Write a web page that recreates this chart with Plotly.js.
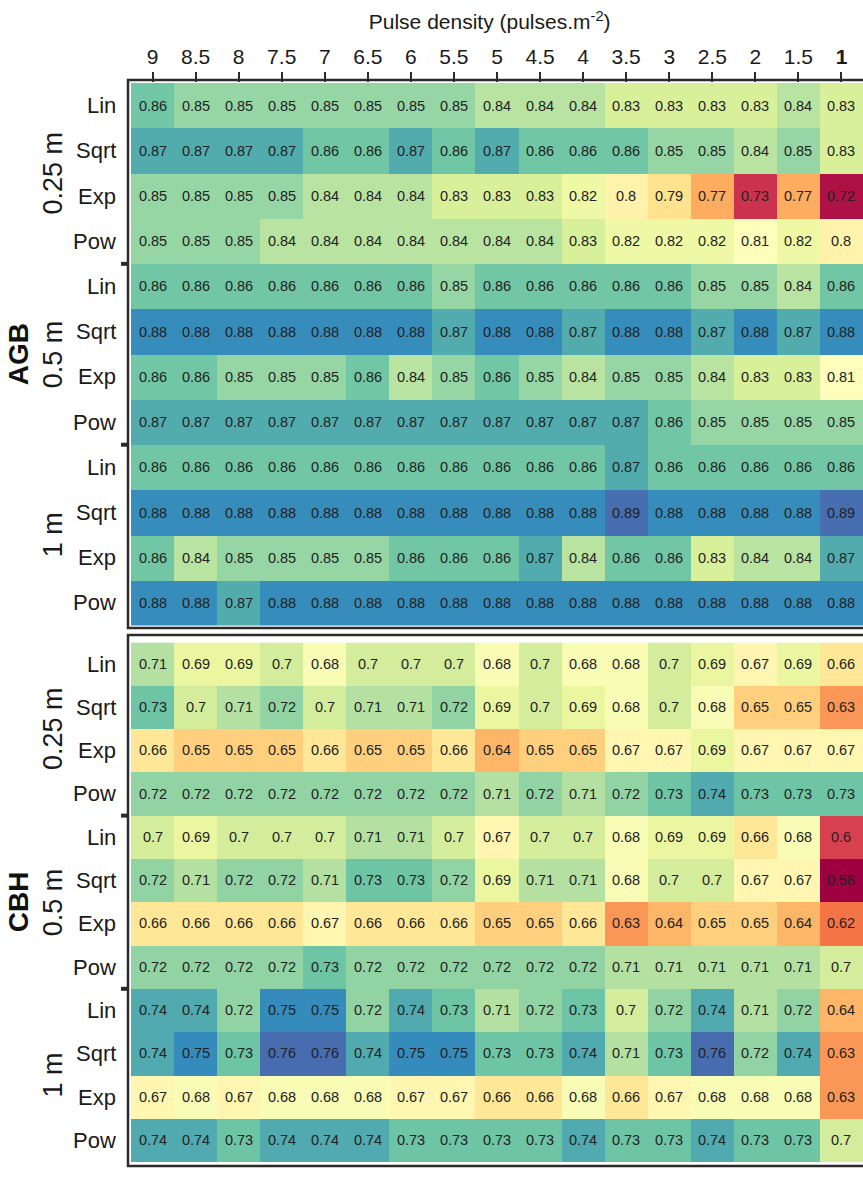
<!DOCTYPE html>
<html>
<head>
<meta charset="utf-8">
<script src="https://cdn.plot.ly/plotly-3.0.1.min.js"></script>
<style>html,body{margin:0;padding:0;background:#fff;}#chart{width:863px;height:1183px;}</style>
</head>
<body>
<div id="chart"></div>
<script>
// Column (pulse density) tick labels
const densities = ['9','8.5','8','7.5','7','6.5','6','5.5','5','4.5','4','3.5','3','2.5','2','1.5','1'];
const models = ['Lin','Sqrt','Exp','Pow'];
const resolutions = ['0.25 m','0.5 m','1 m'];

// AGB values (rows: Lin, Sqrt, Exp, Pow)
const agb025 = [
  [0.86,0.85,0.85,0.85,0.85,0.85,0.85,0.85,0.84,0.84,0.84,0.83,0.83,0.83,0.83,0.84,0.83],
  [0.87,0.87,0.87,0.87,0.86,0.86,0.87,0.86,0.87,0.86,0.86,0.86,0.85,0.85,0.84,0.85,0.83],
  [0.85,0.85,0.85,0.85,0.84,0.84,0.84,0.83,0.83,0.83,0.82,0.8,0.79,0.77,0.73,0.77,0.72],
  [0.85,0.85,0.85,0.84,0.84,0.84,0.84,0.84,0.84,0.84,0.83,0.82,0.82,0.82,0.81,0.82,0.8]
];
const agb05 = [
  [0.86,0.86,0.86,0.86,0.86,0.86,0.86,0.85,0.86,0.86,0.86,0.86,0.86,0.85,0.85,0.84,0.86],
  [0.88,0.88,0.88,0.88,0.88,0.88,0.88,0.87,0.88,0.88,0.87,0.88,0.88,0.87,0.88,0.87,0.88],
  [0.86,0.86,0.85,0.85,0.85,0.86,0.84,0.85,0.86,0.85,0.84,0.85,0.85,0.84,0.83,0.83,0.81],
  [0.87,0.87,0.87,0.87,0.87,0.87,0.87,0.87,0.87,0.87,0.87,0.87,0.86,0.85,0.85,0.85,0.85]
];
const agb1 = [
  [0.86,0.86,0.86,0.86,0.86,0.86,0.86,0.86,0.86,0.86,0.86,0.87,0.86,0.86,0.86,0.86,0.86],
  [0.88,0.88,0.88,0.88,0.88,0.88,0.88,0.88,0.88,0.88,0.88,0.89,0.88,0.88,0.88,0.88,0.89],
  [0.86,0.84,0.85,0.85,0.85,0.85,0.86,0.86,0.86,0.87,0.84,0.86,0.86,0.83,0.84,0.84,0.87],
  [0.88,0.88,0.87,0.88,0.88,0.88,0.88,0.88,0.88,0.88,0.88,0.88,0.88,0.88,0.88,0.88,0.88]
];
// CBH values
const cbh025 = [
  [0.71,0.69,0.69,0.7,0.68,0.7,0.7,0.7,0.68,0.7,0.68,0.68,0.7,0.69,0.67,0.69,0.66],
  [0.73,0.7,0.71,0.72,0.7,0.71,0.71,0.72,0.69,0.7,0.69,0.68,0.7,0.68,0.65,0.65,0.63],
  [0.66,0.65,0.65,0.65,0.66,0.65,0.65,0.66,0.64,0.65,0.65,0.67,0.67,0.69,0.67,0.67,0.67],
  [0.72,0.72,0.72,0.72,0.72,0.72,0.72,0.72,0.71,0.72,0.71,0.72,0.73,0.74,0.73,0.73,0.73]
];
const cbh05 = [
  [0.7,0.69,0.7,0.7,0.7,0.71,0.71,0.7,0.67,0.7,0.7,0.68,0.69,0.69,0.66,0.68,0.6],
  [0.72,0.71,0.72,0.72,0.71,0.73,0.73,0.72,0.69,0.71,0.71,0.68,0.7,0.7,0.67,0.67,0.58],
  [0.66,0.66,0.66,0.66,0.67,0.66,0.66,0.66,0.65,0.65,0.66,0.63,0.64,0.65,0.65,0.64,0.62],
  [0.72,0.72,0.72,0.72,0.73,0.72,0.72,0.72,0.72,0.72,0.72,0.71,0.71,0.71,0.71,0.71,0.7]
];
const cbh1 = [
  [0.74,0.74,0.72,0.75,0.75,0.72,0.74,0.73,0.71,0.72,0.73,0.7,0.72,0.74,0.71,0.72,0.64],
  [0.74,0.75,0.73,0.76,0.76,0.74,0.75,0.75,0.73,0.73,0.74,0.71,0.73,0.76,0.72,0.74,0.63],
  [0.67,0.68,0.67,0.68,0.68,0.68,0.67,0.67,0.66,0.66,0.68,0.66,0.67,0.68,0.68,0.68,0.63],
  [0.74,0.74,0.73,0.74,0.74,0.74,0.73,0.73,0.73,0.73,0.74,0.73,0.73,0.74,0.73,0.73,0.7]
];

const agb = agb025.concat(agb05, agb1);
const cbh = cbh025.concat(cbh05, cbh1);

const spectral = [
  [0.0,'#9e0142'],[0.1,'#d53e4f'],[0.2,'#f46d43'],[0.3,'#fdae61'],[0.4,'#fee08b'],
  [0.5,'#ffffbf'],[0.6,'#e6f598'],[0.7,'#abdda4'],[0.8,'#66c2a5'],[0.9,'#3288bd'],[1.0,'#5e4fa2']
];

const FONT = 'Liberation Sans, Arial, sans-serif';
const xIdx = densities.map((d,i)=>i);
const yIdx = agb.map((r,i)=>i);

function hm(z, yaxis, zmin, zmax){
  return {
    type:'heatmap', z:z, x:xIdx, y:yIdx, xaxis:'x', yaxis:yaxis,
    colorscale:spectral, zmin:zmin, zmax:zmax, showscale:false,
    text:z.map(r=>r.map(v=>String(v))), texttemplate:'%{text}',
    textfont:{family:FONT, size:14.5, color:'#222'}, hoverinfo:'skip'
  };
}

const W = 863, H = 1183, L = 131, R = 0, T = 83, B = 21;
const PW = W - L - R, PH = H - T - B;
const pyTop = px => (H - B - px) / PH; // page y pixel -> paper y
const agbDom = [pyTop(625.6), 1];
const cbhDom = [0, pyTop(642.4)];

const ann = [];
[['y',agbDom],['y2',cbhDom]].forEach(([ya,dom])=>{
  for(let g=0; g<3; g++){
    for(let m=0; m<4; m++){
      ann.push({xref:'paper', x:0, xshift:-13, xanchor:'right', yref:ya, y:g*4+m, yanchor:'middle',
        text:models[m], showarrow:false, font:{family:FONT, size:22, color:'#1a1a1a'}});
    }
    ann.push({xref:'paper', x:0, xshift:-(L-53), xanchor:'center', yref:ya, y:g*4+1.5, yanchor:'middle',
      text:resolutions[g], textangle:-90, showarrow:false, font:{family:FONT, size:27, color:'#1a1a1a'}});
  }
});
ann.push({xref:'paper', x:0, xshift:-(L-18), xanchor:'center', yref:'y', y:5.5, yanchor:'middle',
  text:'<b>AGB</b>', textangle:-90, showarrow:false, font:{family:FONT, size:28, color:'#111'}});
ann.push({xref:'paper', x:0, xshift:-(L-18), xanchor:'center', yref:'y2', y:5.5, yanchor:'middle',
  text:'<b>CBH</b>', textangle:-90, showarrow:false, font:{family:FONT, size:28, color:'#111'}});

const shapes = [];
const fx = px => (px - L) / PW;
shapes.push({type:'rect', xref:'paper', yref:'paper', x0:fx(128), x1:fx(870), y0:pyTop(628), y1:pyTop(80),
  line:{color:'#2b2b2b', width:2.5}, fillcolor:'rgba(0,0,0,0)'});
shapes.push({type:'rect', xref:'paper', yref:'paper', x0:fx(128), x1:fx(870), y0:pyTop(1166), y1:pyTop(635),
  line:{color:'#2b2b2b', width:2.5}, fillcolor:'rgba(0,0,0,0)'});
['y','y2'].forEach(ya=>{
  [3.5,7.5].forEach(b=>{
    shapes.push({type:'line', xref:'paper', yref:ya, x0:fx(121), x1:fx(127), y0:b, y1:b,
      line:{color:'#2b2b2b', width:4}});
  });
});

const tickText = densities.map((d,i)=> i===densities.length-1 ? '<b>'+d+'</b>' : d);

const layout = {
  width:W, height:H, margin:{l:L, r:R, t:T, b:B, pad:0},
  paper_bgcolor:'#fff', plot_bgcolor:'#fff',
  title:{text:'Pulse density (pulses.m<sup>-2</sup>)', font:{family:FONT, size:21, color:'#1a1a1a'},
    xref:'paper', x:0.49, xanchor:'center', yref:'container', y:1-22/H, yanchor:'middle'},
  xaxis:{range:[-0.5,16.5], side:'top', anchor:'y', tickvals:xIdx, ticktext:tickText,
    ticks:'outside', ticklen:10, tickwidth:2, tickcolor:'#2b2b2b',
    tickfont:{family:FONT, size:21, color:'#1a1a1a'}, showgrid:false, zeroline:false, showline:false, fixedrange:true},
  yaxis:{domain:agbDom, range:[11.5,-0.5], showticklabels:false, ticks:'', showgrid:false, zeroline:false, showline:false},
  yaxis2:{domain:cbhDom, range:[11.5,-0.5], showticklabels:false, ticks:'', showgrid:false, zeroline:false, showline:false},
  annotations:ann, shapes:shapes, showlegend:false
};

Plotly.newPlot('chart', [hm(agb,'y',0.715,0.90), hm(cbh,'y2',0.58,0.77)], layout, {displayModeBar:false, staticPlot:true});
</script>
</body>
</html>
